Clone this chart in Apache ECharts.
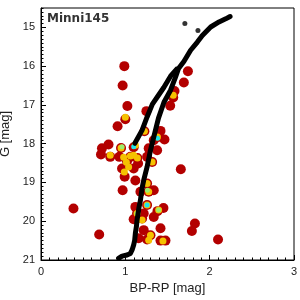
<!DOCTYPE html>
<html><head><meta charset="utf-8">
<script src="https://cdn.jsdelivr.net/npm/echarts@6/dist/echarts.min.js"></script>
<style>html,body{margin:0;padding:0;background:#fff}#c{width:300px;height:300px}</style>
</head><body><div id="c"></div>
<script>
const titleText = 'Minni145';
const xTicks = [0, 1, 2, 3];
const yTicks = [15, 16, 17, 18, 19, 20, 21];

const isoMainBP = [0.920,0.961,1.020,1.060,1.080,1.099,1.111,1.119,1.131,1.139,1.151,1.163,1.179,1.190,1.202,1.218,1.258,1.298,1.337,1.393,1.458,1.536,1.595,1.631,1.694,1.774,1.854,1.913,2.012,2.111,2.190,2.242];
const isoMainG  = [20.96,20.90,20.87,20.83,20.74,20.61,20.49,20.31,20.14,19.97,19.80,19.63,19.46,19.28,19.11,18.94,18.60,18.17,17.83,17.34,16.93,16.62,16.28,16.06,15.88,15.59,15.38,15.21,14.99,14.86,14.78,14.72];
const isoBranchBP = [1.113,1.199,1.258,1.321,1.393,1.456,1.536,1.607];
const isoBranchG  = [17.99,17.65,17.31,16.98,16.75,16.55,16.26,16.08];
const isoExtraBP = [1.706,1.861];
const isoExtraG  = [14.90,15.08];

const redBP = [0.988,0.968,1.024,1.000,0.908,1.250,1.226,1.742,1.694,1.583,1.568,1.532,1.417,1.464,1.381,
  0.723,0.801,0.711,0.821,0.949,0.929,1.060,1.020,1.099,1.143,0.961,1.099,0.992,1.151,1.119,1.258,1.277,1.337,1.377,1.318,1.658,0.968,1.258,1.277,1.179,
  1.119,1.258,1.381,1.452,1.139,1.218,1.199,1.337,1.218,1.417,1.298,1.158,1.258,1.417,1.476,1.825,1.789,2.099,0.385,0.690,1.099,1.337];
const redG = [16.00,16.50,17.03,17.37,17.55,17.16,17.68,16.13,16.42,16.64,16.81,17.02,17.67,17.89,17.83,
  18.12,18.02,18.28,18.34,18.11,18.34,18.34,18.45,18.09,18.37,18.64,18.64,18.85,18.51,18.95,18.34,18.12,17.91,18.17,18.47,18.66,19.20,19.03,19.24,19.24,
  19.63,19.58,19.74,19.66,19.80,19.80,19.93,19.89,20.23,20.18,20.36,20.44,20.47,20.50,20.50,20.06,20.25,20.47,19.67,20.34,19.95,19.20];

const yelBP = [1.000,1.226,1.568,0.949,0.821,1.060,0.988,1.143,1.381,1.258,1.277,1.258,1.395,1.139,1.298,1.446,1.012,1.119,1.099,0.980,1.039,1.318,1.199,1.277];
const yelG  = [17.32,17.68,16.75,18.11,18.30,18.32,18.73,18.37,17.83,19.03,19.24,19.58,19.71,19.80,20.36,20.51,18.48,18.04,18.30,18.35,18.60,18.47,19.97,20.49];

const grnBP = [0.961,1.139,1.395,1.262];
const grnG  = [18.08,19.80,19.71,19.20];
const cyaBP = [1.099,1.381,1.258];
const cyaG  = [18.08,17.86,19.58];

const zip = (a, b) => a.map((v, i) => [v, b[i]]);
const font = 'Liberation Sans';

const chart = echarts.init(document.getElementById('c'), null, {renderer: 'canvas'});
chart.setOption({
  animation: false,
  backgroundColor: '#fff',
  title: {
    text: titleText, left: 42, top: 8,
    textStyle: {fontSize: 12, fontWeight: 'bold', color: '#333', fontFamily: 'DejaVu Sans'}
  },
  grid: {left: 41, right: 6, top: 8, bottom: 40, show: true, borderColor: '#000', borderWidth: 1,
    backgroundColor: 'transparent', containLabel: false, outerBoundsMode: 'none'},
  xAxis: {
    type: 'value', min: 0, max: 3, interval: 1,
    name: 'BP-RP [mag]', nameLocation: 'middle', nameGap: 21,
    nameTextStyle: {fontSize: 13, color: '#222', fontFamily: font},
    axisLine: {show: true, lineStyle: {color: '#000', width: 1}},
    axisTick: {show: true, inside: true, length: 5, lineStyle: {color: '#000'}},
    minorTick: {show: true, splitNumber: 10, length: 2.5, lineStyle: {color: '#000'}},
    splitLine: {show: false}, minorSplitLine: {show: false},
    axisLabel: {fontSize: 11, color: '#222', margin: 6, fontFamily: font,
      formatter: v => (xTicks.includes(Math.round(v)) ? String(Math.round(v)) : '')}
  },
  yAxis: [{
    type: 'value', min: 14.5, max: 21, interval: 0.1, inverse: true, position: 'left',
    name: 'G [mag]', nameLocation: 'middle', nameGap: 19, nameRotate: 90,
    nameTextStyle: {fontSize: 13, color: '#222', fontFamily: font},
    axisLine: {show: true, lineStyle: {color: '#000', width: 1}},
    axisTick: {show: true, inside: true, length: 2.5, lineStyle: {color: '#000'}},
    splitLine: {show: false},
    axisLabel: {fontSize: 11, color: '#222', margin: 6, fontFamily: font,
      formatter: v => (Math.abs(v - Math.round(v)) < 1e-6 && yTicks.includes(Math.round(v)) ? String(Math.round(v)) : '')}
  }, {
    type: 'value', min: 14.5, max: 21, inverse: true, position: 'left', offset: 0,
    axisLine: {show: false},
    axisTick: {show: true, inside: true, length: 5, lineStyle: {color: '#000'}, customValues: yTicks},
    axisLabel: {show: false},
    splitLine: {show: false}
  }],
  series: [
    {type: 'scatter', data: zip(redBP, redG), symbolSize: 10, itemStyle: {color: '#b30000', opacity: 1}, silent: true},
    {type: 'scatter', data: zip(yelBP, yelG), symbolSize: 7, itemStyle: {color: '#f5c200', opacity: 1}, silent: true},
    {type: 'line', data: zip(isoMainBP, isoMainG), showSymbol: false, symbol: 'none', lineStyle: {color: '#000', width: 5, cap: 'round', join: 'round'}, silent: true},
    {type: 'line', data: zip(isoBranchBP, isoBranchG), showSymbol: false, symbol: 'none', lineStyle: {color: '#000', width: 5, cap: 'round', join: 'round'}, silent: true},
    {type: 'scatter', data: zip(isoExtraBP, isoExtraG), symbolSize: 5, itemStyle: {color: '#000'}, silent: true},
    {type: 'scatter', data: zip(grnBP, grnG), symbolSize: 5, itemStyle: {color: '#9cf06c', opacity: 1}, silent: true},
    {type: 'scatter', data: zip(cyaBP, cyaG), symbolSize: 5, itemStyle: {color: '#1ee6f0', opacity: 1}, silent: true}
  ]
});
</script>
</body></html>
